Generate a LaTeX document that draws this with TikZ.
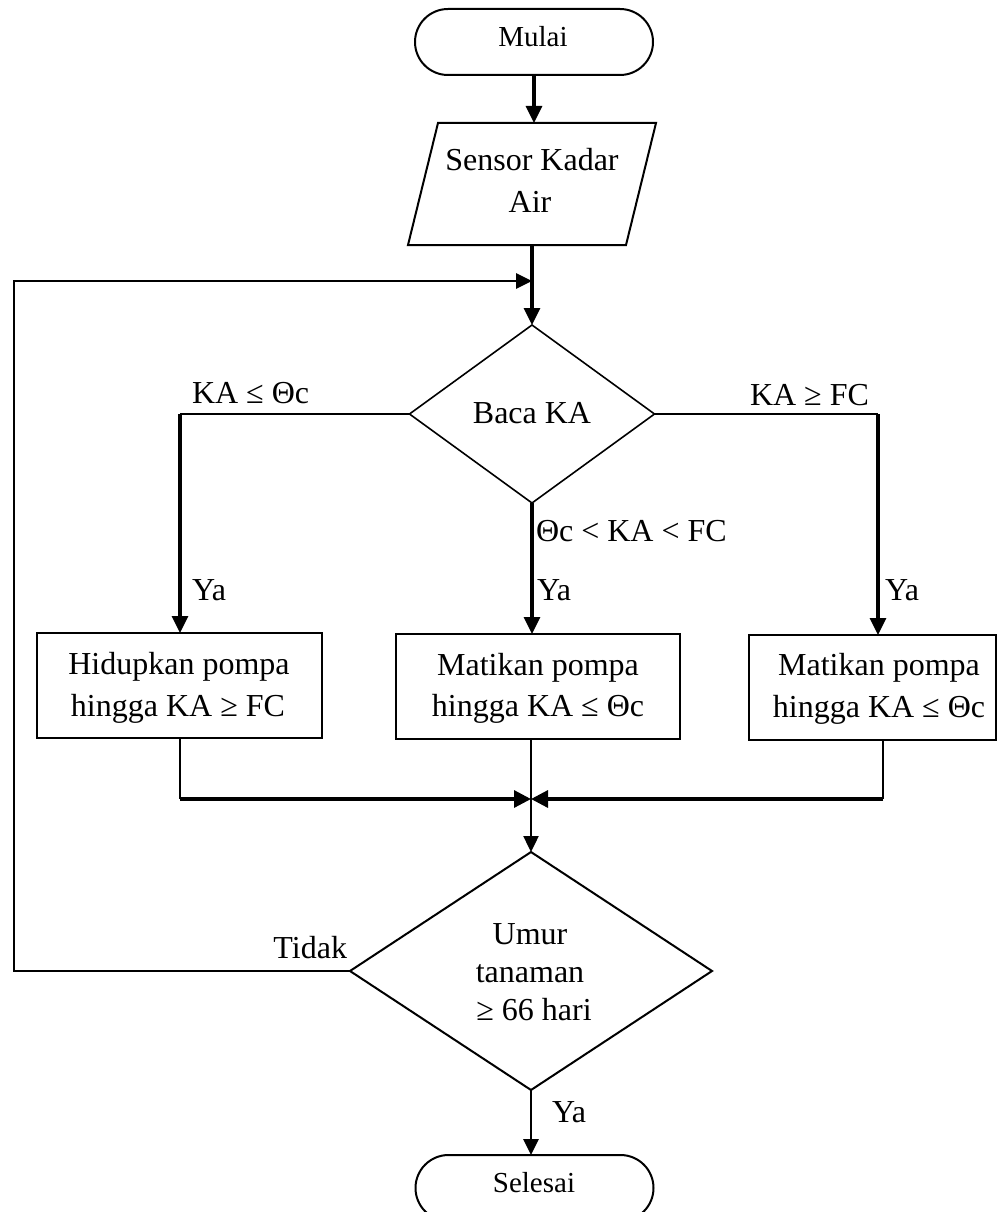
\documentclass[tikz,border=0pt]{standalone}
\usepackage{fontspec}
\setmainfont{Liberation Serif}
\usetikzlibrary{arrows.meta}
\begin{document}
\begin{tikzpicture}[x=1pt,y=-1pt,
  every node/.style={inner sep=0pt,outer sep=0pt},
  txt/.style={font=\fontsize{32}{38}\selectfont,anchor=base},
  stxt/.style={font=\fontsize{29}{34}\selectfont,anchor=base},
  lbl/.style={font=\fontsize{32}{38}\selectfont,anchor=base west},
  term/.style={draw,line width=2pt,rounded corners=33pt,minimum width=238pt,minimum height=66pt},
  procbox/.style={draw,line width=2pt,rectangle,minimum height=105pt},
  holder/.style={rectangle},
  outline/.style={line width=1.6pt,line join=miter},
  thinline/.style={line width=1.6pt},
  arr/.style={line width=3.2pt,-{Triangle[width=16pt,length=17pt]}},
  marr/.style={line width=3.2pt,-{Triangle[width=17pt,length=17pt]}},
]
\useasboundingbox (0,0) rectangle (997,1212);
\clip (0,0) rectangle (997,1212);

% terminators
\node[term] (mulai) at (534,42) {};
\node[stxt] (mulaiT) at (533,47) {Mulai};

% input parallelogram
\node[holder,minimum width=248pt,minimum height=122pt] (sensor) at (532,184) {};
\draw[line width=2pt] ([xshift=30pt]sensor.north west) -- (sensor.north east)
  -- ([xshift=-30pt]sensor.south east) -- (sensor.south west) -- cycle;
\node[txt] (sensorA) at (532,170) {Sensor Kadar};
\node[txt] (sensorB) at (530,212) {Air};

% decision 1
\node[holder,minimum width=245pt,minimum height=178pt] (baca) at (532,414) {};
\draw[outline] (baca.north) -- (baca.east) -- (baca.south) -- (baca.west) -- cycle;
\node[txt] (bacaT) at (532,423) {Baca KA};

% process boxes
\node[procbox,minimum width=285pt] (hidup) at (179.5,685.5) {};
\node[txt] (hidupA) at (179,674) {Hidupkan pompa};
\node[txt] (hidupB) at (178,716) {hingga KA ≥ FC};

\node[procbox,minimum width=284pt] (mat1) at (538,686.5) {};
\node[txt] (mat1A) at (538,675) {Matikan pompa};
\node[txt] (mat1B) at (538,716) {hingga KA ≤ Θc};

\node[procbox,minimum width=247pt] (mat2) at (872.5,687.5) {};
\node[txt] (mat2A) at (879,675) {Matikan pompa};
\node[txt] (mat2B) at (879,717) {hingga KA ≤ Θc};

% decision 2
\node[holder,minimum width=362pt,minimum height=238pt] (umur) at (531,971) {};
\draw[line width=2pt] (umur.north) -- (umur.east) -- (umur.south) -- (umur.west) -- cycle;
\node[txt] (umurA) at (530,944) {Umur};
\node[txt] (umurB) at (530,982) {tanaman};
\node[txt] (umurC) at (534,1020) {≥ 66 hari};

\node[term] (selesai) at (534.5,1188) {};
\node[stxt] (selesaiT) at (534,1192) {Selesai};

% labels
\node[lbl] (l1) at (192,403) {KA ≤ Θc};
\node[lbl] (l2) at (750,405) {KA ≥ FC};
\node[lbl] (l3) at (536,541) {Θc < KA < FC};
\node[lbl] (ya1) at (192,600) {Ya};
\node[lbl] (ya2) at (537,600) {Ya};
\node[lbl] (ya3) at (885,600) {Ya};
\node[txt,anchor=base east] (tidak) at (347,958) {Tidak};
\node[lbl] (ya4) at (552,1122) {Ya};

% coordinates
\coordinate (j1) at (532,281);
\coordinate (loopc) at (14,971);
\coordinate (lb) at (180,414);
\coordinate (rb) at (878,414);
\coordinate (ml) at (180,799);
\coordinate (mr) at (883,799);
\coordinate (mc) at (531,799);

% connectors
\draw[arr] (mulai.south) -- (mulai.south |- sensor.north);
\draw[arr] (sensor.south) -- (baca.north);
\draw[line width=2.8pt,-{Triangle[width=15pt,length=16pt]}] (umur.west) -- (loopc) |- (j1);

\draw[thinline] (baca.west) -- (lb);
\draw[arr] (lb) -- (lb |- hidup.north);
\draw[thinline] (baca.east) -- (rb);
\draw[arr] (rb) -- (rb |- mat2.north);
\draw[arr] (baca.south) -- (baca.south |- mat1.north);

\draw[thinline] (ml |- hidup.south) -- (ml);
\draw[thinline] (mr |- mat2.south) -- (mr);
\draw[marr] (ml) -- (mc);
\draw[marr] (mr) -- (mc);
\draw[line width=2.4pt,-{Triangle[width=15pt,length=16pt]}] (mc |- mat1.south) -- (umur.north);
\draw[line width=2.8pt,-{Triangle[width=15pt,length=16pt]}] (umur.south) -- (umur.south |- selesai.north);
\end{tikzpicture}
\end{document}
